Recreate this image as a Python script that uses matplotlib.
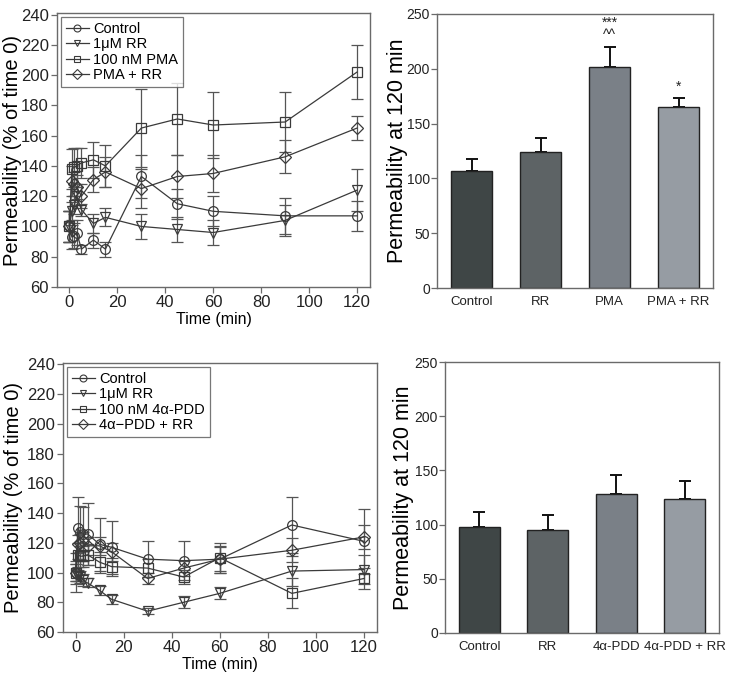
import matplotlib
matplotlib.use("Agg")
import matplotlib.pyplot as plt
from matplotlib.lines import Line2D
import numpy as np

plt.rcParams['font.family'] = ['Liberation Sans Narrow', 'Liberation Sans', 'DejaVu Sans']

# ---------------- data ----------------
times = [0, 1, 2, 3, 5, 10, 15, 30, 45, 60, 90, 120]

# Top-left (PMA experiment)
pma_labels = ["Control", "1\u03bcM RR", "100 nM PMA", "PMA + RR"]
pma_ctrl = [100, 93, 94, 96, 85, 91, 85, 133, 115, 110, 107, 107]
pma_ctrl_err = [10, 8, 8, 8, 3, 5, 5, 14, 10, 10, 12, 10]
pma_rr = [100, 110, 114, 120, 111, 102, 106, 100, 98, 96, 104, 124]
pma_rr_err = [10, 6, 6, 6, 4, 6, 6, 8, 8, 8, 10, 14]
pma_pma = [100, 138, 139, 140, 142, 144, 140, 165, 171, 167, 169, 202]
pma_pma_err = [10, 13, 13, 12, 10, 12, 14, 26, 24, 22, 20, 18]
pma_comb = [100, 130, 128, 126, 120, 131, 136, 125, 133, 135, 146, 165]
pma_comb_err = [10, 10, 8, 8, 8, 8, 10, 13, 14, 12, 11, 8]

# Bottom-left (4a-PDD experiment)
pdd_labels = ["Control", "1\u03bcM RR", "100 nM 4\u03b1-PDD", "4\u03b1\u2212PDD + RR"]
pdd_ctrl = [100, 130, 127, 126, 126, 119, 117, 109, 108, 109, 132, 121]
pdd_ctrl_err = [8, 21, 18, 18, 21, 18, 18, 12, 13, 9, 19, 22]
pdd_rr = [100, 98, 97, 95, 93, 88, 82, 74, 80, 86, 101, 102]
pdd_rr_err = [13, 4, 4, 4, 3, 3, 3, 2, 4, 4, 10, 10]
pdd_pdd = [100, 112, 111, 111, 112, 107, 104, 103, 97, 110, 86, 96]
pdd_pdd_err = [6, 8, 7, 7, 7, 7, 6, 6, 5, 10, 10, 7]
pdd_comb = [100, 119, 120, 121, 118, 118, 114, 96, 103, 109, 115, 124]
pdd_comb_err = [6, 6, 6, 6, 6, 6, 6, 4, 5, 8, 8, 8]

# Bar charts
bar_cats_top = ["Control", "RR", "PMA", "PMA + RR"]
bar_vals_top = [107, 124, 202, 165]
bar_err_top = [11, 13, 18, 8]
bar_annot_top = ["", "", "***\n^^", "*"]

bar_cats_bot = ["Control", "RR", "4\u03b1-PDD", "4\u03b1-PDD + RR"]
bar_vals_bot = [98, 95, 128, 124]
bar_err_bot = [14, 14, 18, 16]

bar_colors = ["#3f4646", "#5d6365", "#7a8087", "#969ca3"]

W, H = 729, 687
fig = plt.figure(figsize=(W / 100, H / 100), dpi=100)

def ax_at(l, r, t, b):
    return fig.add_axes([l / W, 1 - b / H, (r - l) / W, (b - t) / H])

line_col = "#3a3a3a"
markers = ["o", "v", "s", "D"]
msizes = [7, 7, 7, 6]
spine_col = "#6a6a6a"

def style_axes(ax):
    for s in ax.spines.values():
        s.set_color(spine_col)
        s.set_linewidth(1.0)
    ax.tick_params(colors="#222222", labelsize=12, length=4, width=0.9, color=spine_col, pad=2)

def time_panel(ax, series, errs, labels, ylab_x):
    for i, (ys, es) in enumerate(zip(series, errs)):
        ax.errorbar(times, ys, yerr=es, color=line_col, ecolor="#555555", elinewidth=0.9,
                    capsize=4, capthick=0.9, lw=0.9, marker=markers[i], ms=msizes[i],
                    mfc="none", mec=line_col, mew=0.9, label=labels[i])
    ax.set_xlim(-5.2, 125.4)
    ax.set_ylim(60, 241)
    ax.set_xticks([0, 20, 40, 60, 80, 100, 120])
    ax.set_yticks(range(60, 241, 20))
    ax.set_xlabel("Time (min)", fontsize=11.5, labelpad=1)
    ax.set_ylabel("Permeability (% of time 0)", fontsize=14.5)
    ax.yaxis.set_label_coords(ylab_x, 0.5)
    style_axes(ax)
    hs = [Line2D([], [], color=line_col, lw=0.9, marker=markers[i], ms=5, mfc="none",
                 mec=line_col, mew=0.8) for i in range(4)]
    leg = ax.legend(hs, labels, loc="upper left", fontsize=10.5, frameon=True, fancybox=False,
                    handlelength=1.6, handletextpad=0.3, labelspacing=0.1, borderpad=0.3,
                    borderaxespad=0.3)
    leg.get_frame().set_edgecolor("#555555")
    leg.get_frame().set_linewidth(0.9)

ax1 = ax_at(57, 370, 13, 287)
time_panel(ax1, [pma_ctrl, pma_rr, pma_pma, pma_comb],
           [pma_ctrl_err, pma_rr_err, pma_pma_err, pma_comb_err], pma_labels, -0.113)

ax3 = ax_at(63, 377, 363, 632)
time_panel(ax3, [pdd_ctrl, pdd_rr, pdd_pdd, pdd_comb],
           [pdd_ctrl_err, pdd_rr_err, pdd_pdd_err, pdd_comb_err], pdd_labels, -0.127)

def bar_panel(ax, cats, vals, errs, ylab_x, annots=None):
    x = np.arange(len(cats))
    ax.bar(x, vals, width=0.6, color=bar_colors, edgecolor="#222222", linewidth=1.0, zorder=2)
    ax.errorbar(x, vals, yerr=[[0] * len(vals), errs], fmt="none", ecolor="#111111",
                elinewidth=1.4, capsize=4, capthick=1.4, zorder=1)
    ax.set_xlim(-0.5, 3.5)
    ax.set_ylim(0, 250)
    ax.set_yticks(range(0, 251, 50))
    ax.set_xticks(x)
    ax.set_xticklabels(cats)
    ax.set_ylabel("Permeability at 120 min", fontsize=15.5)
    ax.yaxis.set_label_coords(ylab_x, 0.5)
    for s in ax.spines.values():
        s.set_color(spine_col)
        s.set_linewidth(1.0)
    ax.tick_params(axis="y", colors="#222222", labelsize=10, length=4, width=0.9, color=spine_col, pad=1)
    ax.tick_params(axis="x", colors="#222222", labelsize=9.5, length=0, pad=6)
    if annots:
        for xi, v, e, a in zip(x, vals, errs, annots):
            if a:
                ax.text(xi, v + e + 4, a, ha="center", va="bottom", fontsize=10,
                        linespacing=0.9, color="#222222")

ax2 = ax_at(437, 713, 14, 288)
bar_panel(ax2, bar_cats_top, bar_vals_top, bar_err_top, -0.105, bar_annot_top)

ax4 = ax_at(445, 719, 362, 633)
bar_panel(ax4, bar_cats_bot, bar_vals_bot, bar_err_bot, -0.112)

fig.savefig("out.png", dpi=100, facecolor="white")
